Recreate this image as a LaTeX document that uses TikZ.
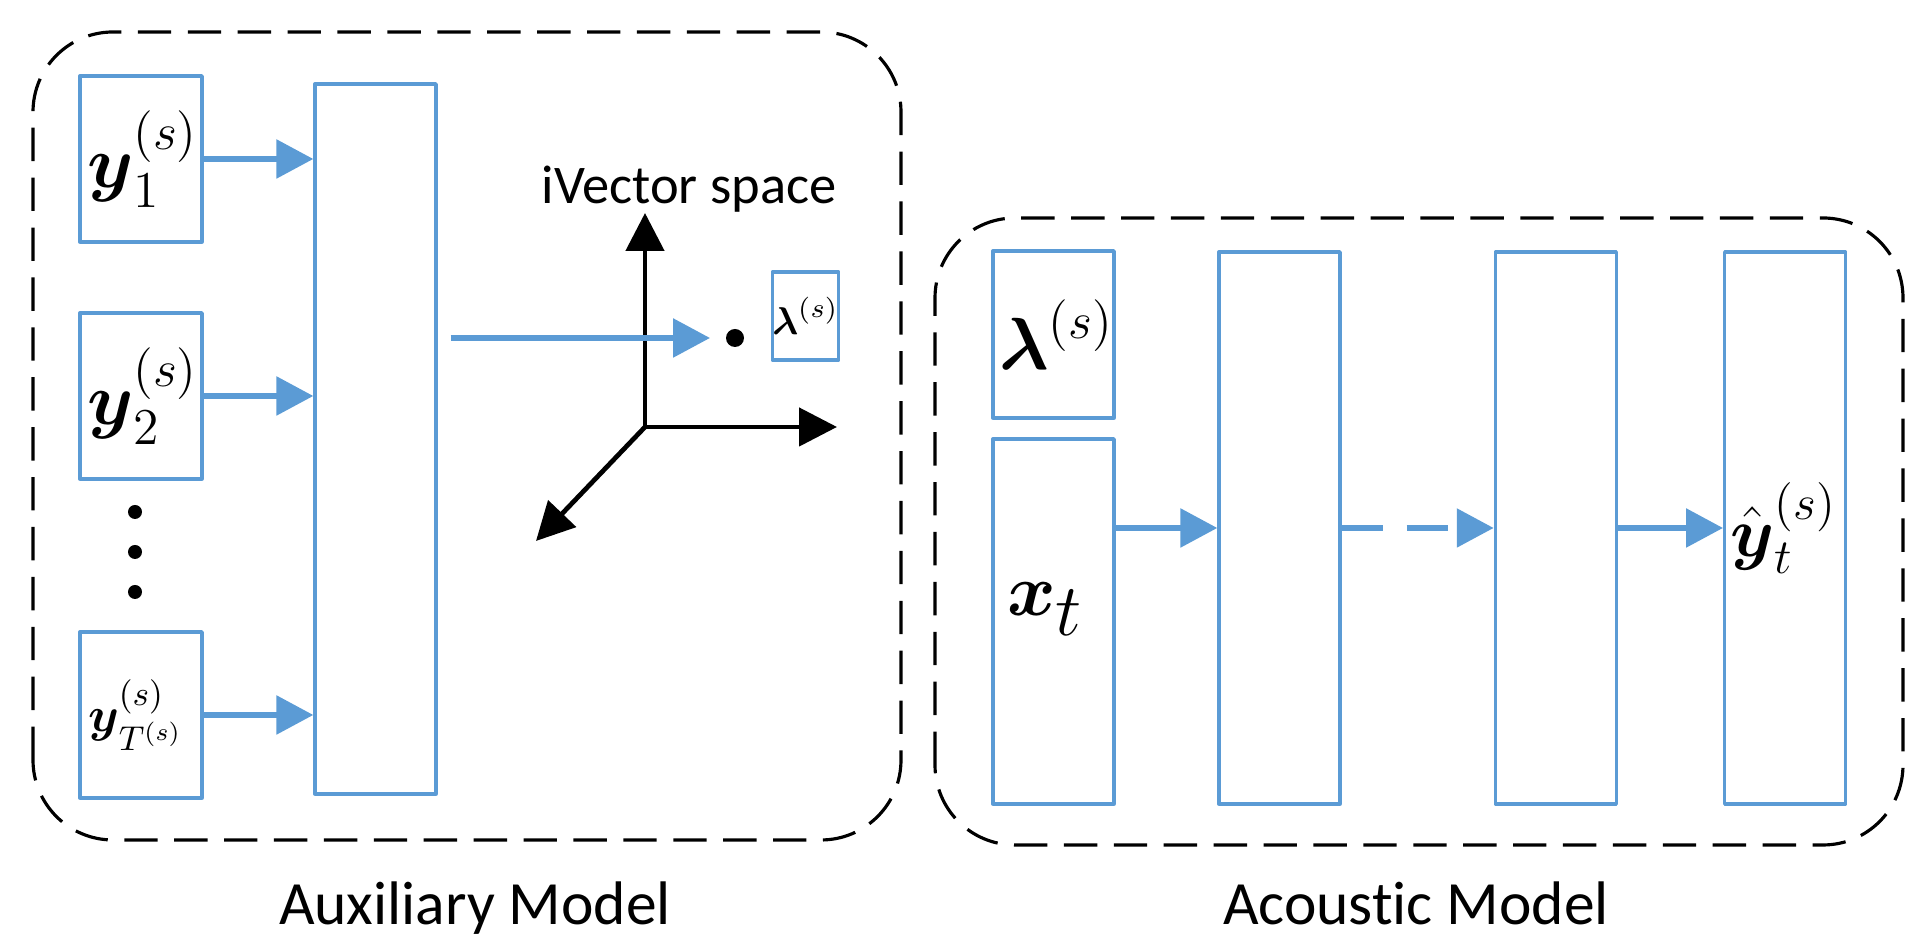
\RequirePackage{fix-cm}
\documentclass[tikz,border=0pt]{standalone}
\usepackage{amsmath,amssymb}
\usepackage[no-math]{fontspec}
\newfontfamily\calibri[Ligatures=NoCommon]{Carlito}
\usepackage{xcolor}
\usepackage{tikz}
\usetikzlibrary{arrows.meta,positioning,calc}

\definecolor{nnblue}{RGB}{91,155,213}

\tikzset{
  layer/.style={draw=nnblue, line width=0.95pt, rectangle, inner sep=0pt, minimum width=1.21cm},
  flow/.style={nnblue, line width=1.6pt, -{Triangle[length=10.5pt,width=10.8pt]}},
  axis/.style={line width=1.35pt, -{Triangle[length=10.8pt,width=10.8pt]}},
  panel/.style={line width=0.9pt, dash pattern=on 9.5pt off 4.7pt, rounded corners=0.8cm},
  sym/.style={font=\fontsize{21}{25}\selectfont, inner sep=0pt},
  caption/.style={font=\calibri\fontsize{17.5}{21}\selectfont, inner sep=0pt, anchor=base},
}

\begin{document}
\begin{tikzpicture}[>=Stealth, line join=round]
\useasboundingbox (0,0) rectangle (19.07,9.36);

% auxiliary model
\draw[panel] (0.33,0.96) rectangle (9.01,9.04);
\node[layer, minimum width=1.22cm, minimum height=1.66cm] (y1) at (1.41,7.77) {};
\node[layer, minimum width=1.22cm, minimum height=1.66cm] (y2) at (1.41,5.40) {};
\node[layer, minimum width=1.22cm, minimum height=1.66cm] (yT) at (1.41,2.21) {};
\node[layer, minimum height=7.10cm] (big) at (3.755,4.97) {};
\node[sym, right=0.08cm] (y1lbl) at (y1.west) {$\boldsymbol{y}_1^{(s)}$};
\node[sym, right=0.08cm] (y2lbl) at (y2.west) {$\boldsymbol{y}_2^{(s)}$};
\node[sym, font=\fontsize{14}{17}\selectfont, right=0.09cm] (yTlbl) at (yT.west) {$\boldsymbol{y}_{T^{(s)}}^{(s)}$};
\foreach \yy in {4.24,3.84,3.44}
  \fill (1.35,\yy) circle (0.07);
\draw[flow] (y1.east) -- (y1.east -| big.west);
\draw[flow] (y2.east) -- (y2.east -| big.west);
\draw[flow] (yT.east) -- (yT.east -| big.west);

% ivector space
\coordinate (O) at (6.45,5.09);
\coordinate (e1) at (6.45,7.23);
\coordinate (e2) at (8.37,5.09);
\coordinate (e3) at (5.36,3.95);
\draw[axis] (O) -- (e1);
\draw[axis] (O) -- (e2);
\draw[axis] (O) -- (e3);
\node[font=\calibri\fontsize{15.5}{18}\selectfont, inner sep=0pt, anchor=base] (space) at (6.89,7.32) {iVector space};
\coordinate (dot) at (7.35,5.98);
\draw[flow, shorten <=0.13cm, shorten >=0.25cm] (big.east |- dot) -- (dot);
\fill (dot) circle (0.09);
\node[layer, minimum width=0.65cm, minimum height=0.88cm, font=\fontsize{11}{13}\selectfont] (ivec) at (8.055,6.20) {$\boldsymbol{\lambda}^{(s)}$};

% acoustic model
\draw[panel] (9.35,0.91) rectangle (19.03,7.18);
\node[layer, minimum height=1.67cm] (lam) at (10.535,6.015) {};
\node[layer, minimum height=3.65cm] (xt) at (10.535,3.145) {};
\node[layer, minimum height=5.52cm] (h1) at (12.795,4.08) {};
\node[layer, minimum height=5.52cm, right=1.52cm of h1] (h2) {};
\node[layer, minimum height=5.52cm, right=1.05cm of h2] (out) {};
\node[sym, right=0.07cm] (lamlbl) at (lam.west) {$\boldsymbol{\lambda}^{(s)}$};
\node[sym, anchor=west] (xtlbl) at ($(xt.west)+(0.15,0.12)$) {$\boldsymbol{x}_{\textstyle t}$};
\node[sym, font=\fontsize{20}{24}\selectfont, anchor=west] (outlbl) at ($(out.west)+(0.07,0)$) {$\hat{\boldsymbol{y}}_t^{(s)}$};
\draw[flow] (xt.east |- h1) -- (h1.west);
\draw[flow, dash pattern=on 11.7pt off 6.8pt] (h1) -- (h2);
\draw[flow] (h2) -- (out);

% captions
\node[caption] (auxcap) at (4.75,0.11) {Auxiliary Model};
\node[caption] (acocap) at (14.16,0.11) {Acoustic Model};
\end{tikzpicture}
\end{document}
